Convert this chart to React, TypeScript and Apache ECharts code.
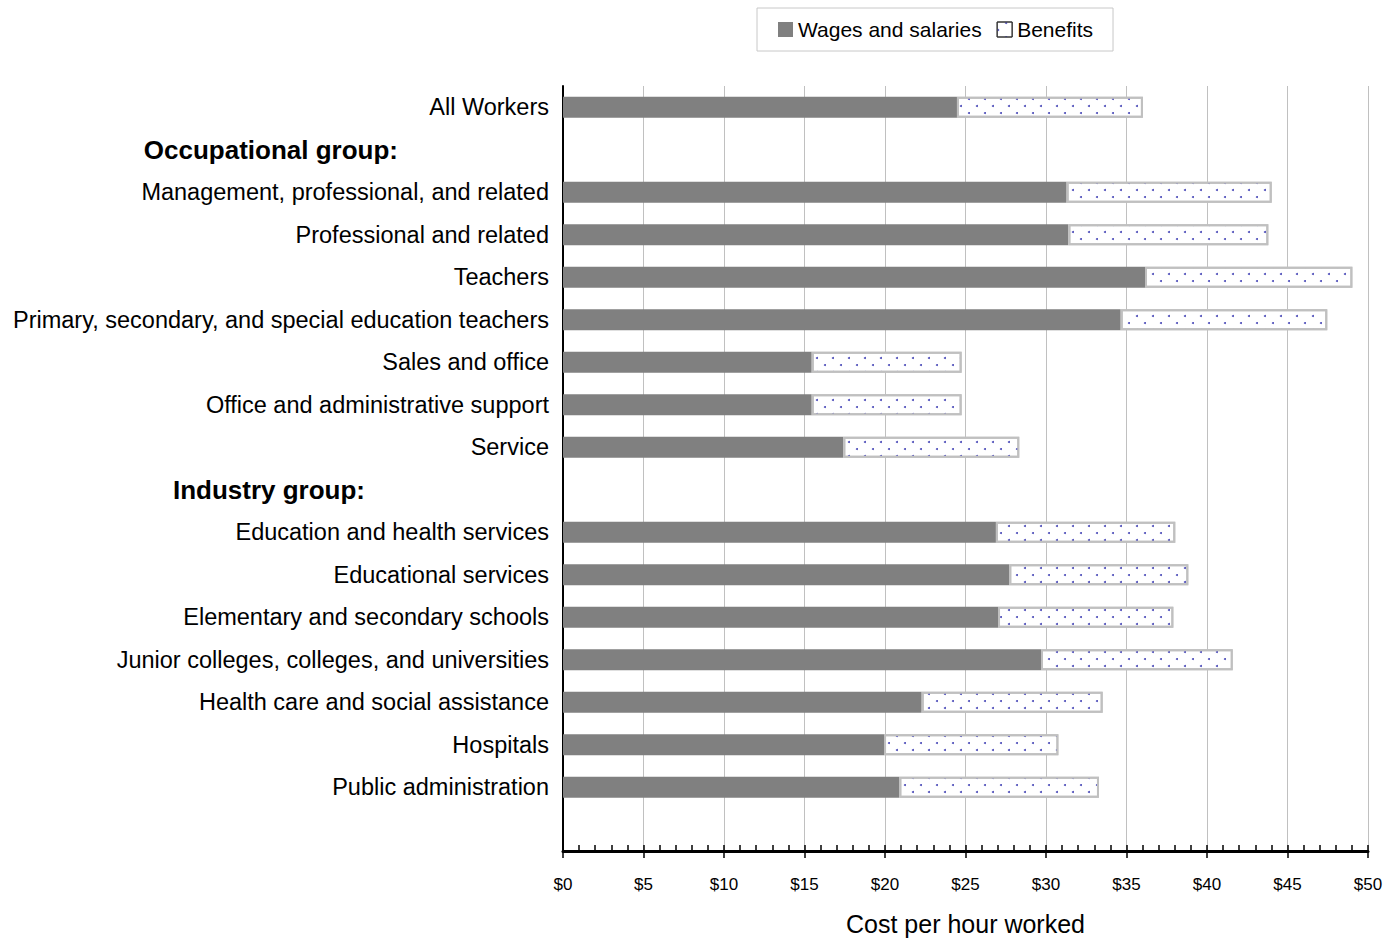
import React, { useEffect, useRef } from 'react';
import * as echarts from 'echarts';

const categories = [
  'All Workers',
  'Occupational group:',
  'Management, professional, and related',
  'Professional and related',
  'Teachers',
  'Primary, secondary, and special education teachers',
  'Sales and office',
  'Office and administrative support',
  'Service',
  'Industry group:',
  'Education and health services',
  'Educational services',
  'Elementary and secondary schools',
  'Junior colleges, colleges, and universities',
  'Health care and social assistance',
  'Hospitals',
  'Public administration',
  '',
];
const occHeader = 'Occupational group:';
const indHeader = 'Industry group:';

const wages = [24.47, null, 31.28, 31.39, 36.15, 34.64, 15.45, 15.45, 17.41, null, 26.89, 27.72, 27.02, 29.69, 22.28, 19.94, 20.89, null];
const benefits = [11.55, null, 12.74, 12.42, 12.88, 12.83, 9.31, 9.31, 10.93, null, 11.14, 11.12, 10.89, 11.91, 11.24, 10.83, 12.4, null];

const xMin = 0;
const xMax = 50;
const xInterval = 5;

const FONT = '"Liberation Sans", Arial, Helvetica, sans-serif';

export default function App() {
  const ref = useRef<HTMLDivElement>(null);
  useEffect(() => {
    if (!ref.current) return;
    const chart = echarts.init(ref.current, null, { renderer: 'svg' });
    const dotDecal = {
      symbol: 'circle',
      symbolSize: 1,
      color: '#4a4ab8',
      dashArrayX: [[2, 13.6], [0, 7.8, 2, 5.8]],
      dashArrayY: [2, 5],
      rotation: 0,
    };
    chart.setOption({
      animation: false,
      backgroundColor: '#ffffff',
      textStyle: { fontFamily: FONT, color: '#000' },
      legend: {
        left: 757,
        top: 8,
        padding: [11, 20, 11, 21],
        itemGap: 15,
        itemWidth: 15,
        itemHeight: 15,
        icon: 'rect',
        borderColor: '#c8c8c8',
        borderWidth: 1,
        textStyle: { fontFamily: FONT, fontSize: 21, color: '#000' },
        data: [
          { name: 'Wages and salaries' },
          { name: 'Benefits', itemStyle: { borderColor: '#333', borderWidth: 1 } },
        ],
      },
      grid: { left: 563, right: 21, top: 86, bottom: 89, containLabel: false, outerBoundsMode: 'none' },
      xAxis: [
        {
          type: 'value',
          min: xMin,
          max: xMax,
          interval: xInterval,
          position: 'bottom',
          axisLine: { show: true, lineStyle: { color: '#000', width: 3 } },
          axisTick: { show: true, inside: true, length: 6, lineStyle: { color: '#000', width: 1.5 } },
          minorTick: { show: true, splitNumber: 5, length: 6, lineStyle: { color: '#000', width: 1.5 } },
          splitLine: { show: true, lineStyle: { color: '#c0c0c0', width: 1 } },
          axisLabel: {
            formatter: (v: number) => '$' + v,
            fontFamily: FONT,
            fontSize: 17,
            color: '#000',
            margin: 25,
          },
          name: 'Cost per hour worked',
          nameLocation: 'middle',
          nameGap: 60,
          nameTextStyle: { fontFamily: FONT, fontSize: 25, color: '#000' },
        },
        {
          type: 'value',
          min: xMin,
          max: xMax,
          interval: xInterval,
          position: 'bottom',
          axisLine: { show: false },
          axisTick: { show: true, inside: false, length: 7, lineStyle: { color: '#000', width: 1.5 } },
          splitLine: { show: false },
          axisLabel: { show: false },
        },
      ],
      yAxis: {
        type: 'category',
        inverse: true,
        data: categories,
        axisLine: { show: true, lineStyle: { color: '#000', width: 2 } },
        axisTick: { show: false },
        splitLine: { show: false },
        axisLabel: {
          interval: 0,
          margin: 14,
          fontFamily: FONT,
          fontSize: 23.5,
          color: '#000',
          formatter: (v: string) => {
            if (v === occHeader) return '{occ|' + v + '}';
            if (v === indHeader) return '{ind|' + v + '}';
            return v;
          },
          rich: {
            occ: { fontFamily: FONT, fontSize: 26, fontWeight: 'bold', color: '#000', padding: [0, 151, 0, 0] },
            ind: { fontFamily: FONT, fontSize: 26, fontWeight: 'bold', color: '#000', padding: [0, 184, 0, 0] },
          },
        },
      },
      series: [
        {
          name: 'Wages and salaries',
          type: 'bar',
          stack: 'cost',
          xAxisIndex: 0,
          barWidth: 21,
          data: wages,
          itemStyle: { color: '#808080' },
        },
        {
          name: 'Benefits',
          type: 'bar',
          stack: 'cost',
          xAxisIndex: 0,
          barWidth: 21,
          data: benefits,
          itemStyle: { color: '#ffffff', borderColor: '#c0c0c0', borderWidth: 2, decal: dotDecal },
        },
      ],
    });
    return () => chart.dispose();
  }, []);
  return <div ref={ref} style={{ position: 'absolute', left: 0, top: 0, width: 1389, height: 940 }} />;
}
